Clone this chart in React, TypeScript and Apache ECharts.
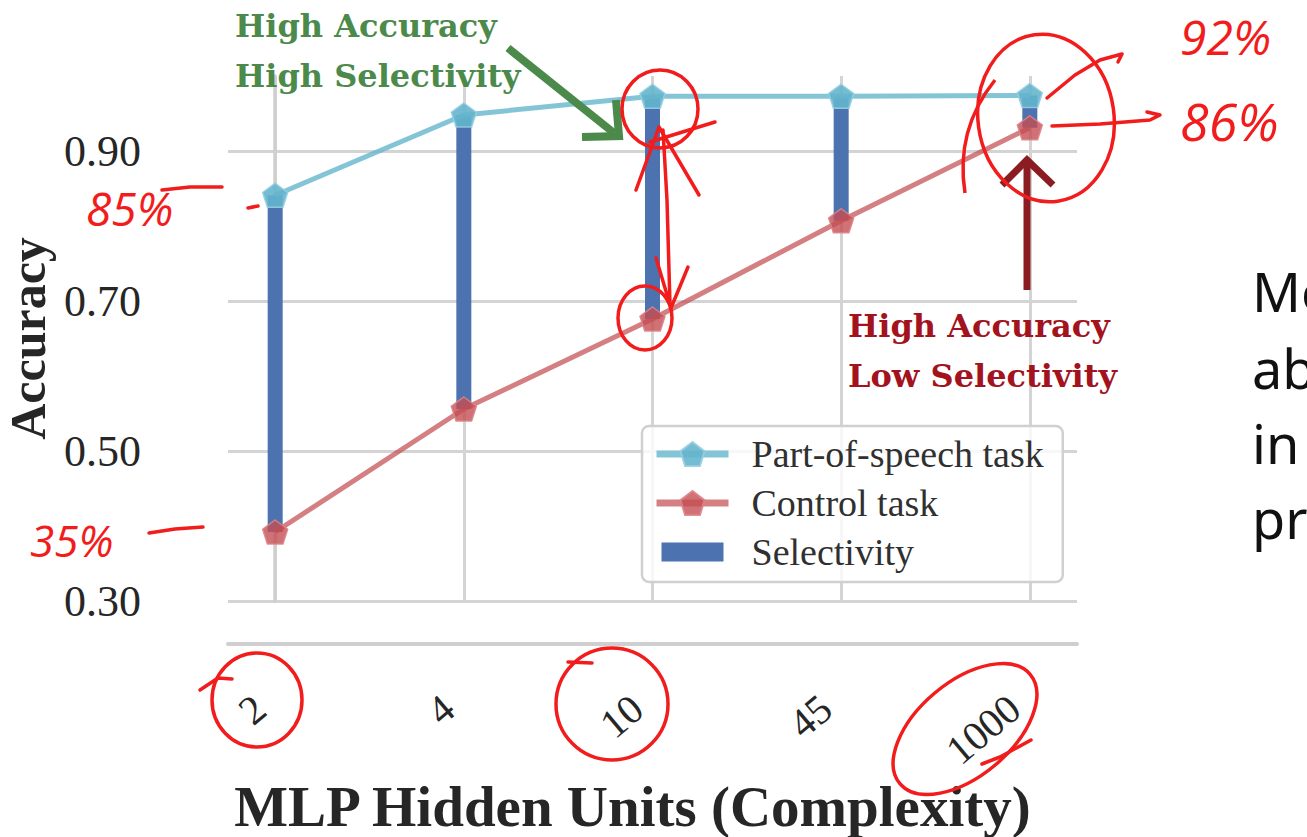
import React, { useEffect, useRef } from "react";
import * as echarts from "echarts";

const categories = ["2", "4", "10", "45", "1000"];
const posAccuracy = [0.841, 0.948, 0.973, 0.973, 0.974];
const controlAccuracy = [0.392, 0.556, 0.676, 0.807, 0.931];
const yTickLabels = ["0.30", "0.50", "0.70", "0.90"];
const seriesNames = ["Part-of-speech task", "Control task", "Selectivity"];
const greenNote = ["High Accuracy", "High Selectivity"];
const redNote = ["High Accuracy", "Low Selectivity"];
const handNotes = ["85%", "35%", "92%", "86%"];
const sideText = ["Mo", "ab", "in", "pr"];

const PENTAGON =
  "path://M0,-1 L0.951,-0.309 L0.588,0.809 L-0.588,0.809 L-0.951,-0.309 Z";
const SERIF = "'Liberation Serif', 'Times New Roman', serif";
const INK = "#f21c1c";

export default function App() {
  const ref = useRef<HTMLDivElement>(null);

  useEffect(() => {
    if (!ref.current) return;
    const chart = echarts.init(ref.current, null, { renderer: "svg" });

    const inkLine = (points: number[][], w = 3.5) => ({
      type: "polyline",
      z: 100,
      shape: { points },
      style: { stroke: INK, lineWidth: w, fill: "none", lineCap: "round", lineJoin: "round" },
    });
    const inkEllipse = (cx: number, cy: number, rx: number, ry: number, rotDeg = 0) => ({
      type: "ellipse",
      z: 100,
      x: cx,
      y: cy,
      rotation: (rotDeg * Math.PI) / 180,
      shape: { cx: 0, cy: 0, rx, ry },
      style: { stroke: INK, lineWidth: 3.5, fill: "none" },
    });
    const txt = (
      text: string,
      x: number,
      y: number,
      fontSize: number,
      fill: string,
      fontFamily: string,
      fontWeight: string = "normal",
      fontStyle: string = "normal"
    ) => ({
      type: "text",
      z: 100,
      x,
      y,
      style: {
        text,
        fontSize,
        fontFamily,
        fontWeight,
        fontStyle,
        fill,
        align: "left",
        textAlign: "left",
        verticalAlign: "middle",
        textVerticalAlign: "middle",
      },
    });

    const option: any = {
      animation: false,
      backgroundColor: "#ffffff",
      grid: {
        left: 228,
        right: 230,
        top: 76,
        bottom: 236,
        containLabel: false,
        outerBoundsMode: "none",
      },
      legend: {
        orient: "vertical",
        left: 642,
        top: 426,
        padding: [9, 19, 11, 11],
        itemWidth: 72,
        itemHeight: 30,
        itemGap: 11,
        backgroundColor: "rgba(255,255,255,0.8)",
        borderColor: "#d0d0d0",
        borderWidth: 2.5,
        borderRadius: 7,
        lineStyle: { width: 7 },
        textStyle: {
          fontFamily: SERIF,
          fontSize: 38,
          color: "#303030",
          padding: [0, 0, 0, 18],
        },
        data: [
          { name: seriesNames[0] },
          { name: seriesNames[1] },
          {
            name: seriesNames[2],
            icon: "path://M0,0 M72,30 M5,5.5 L67,5.5 L67,24.5 L5,24.5 Z",
          },
        ],
      },
      xAxis: {
        type: "value",
        min: -0.25,
        max: 4.25,
        minInterval: 1,
        maxInterval: 1,
        offset: 43,
        axisLine: { show: true, lineStyle: { color: "#cfcfcf", width: 4 } },
        axisTick: { show: false },
        splitLine: {
          show: true,
          showMinLine: false,
          showMaxLine: false,
          lineStyle: { color: "#d4d4d4", width: 3 },
        },
        axisLabel: {
          rotate: 40,
          margin: 46,
          padding: [0, 20, 0, 0],
          fontFamily: SERIF,
          fontSize: 41,
          color: "#262626",
          showMinLabel: false,
          showMaxLabel: false,
          formatter: (v: number) =>
            Number.isInteger(v) && categories[v] !== undefined ? categories[v] : "",
        },
        name: "MLP Hidden Units (Complexity)",
        nameLocation: "middle",
        nameGap: 131,
        nameTextStyle: {
          fontFamily: SERIF,
          fontWeight: "bold",
          fontSize: 57,
          color: "#262626",
          padding: [0, 40, 0, 0],
        },
      },
      yAxis: {
        type: "value",
        min: 0.3,
        max: 1.0,
        interval: 0.1,
        offset: 43,
        axisLine: { show: true, lineStyle: { color: "#cfcfcf", width: 3.5 } },
        axisTick: { show: false },
        splitLine: {
          show: true,
          lineStyle: { color: ["#d4d4d4", "rgba(0,0,0,0)"], width: 3 },
        },
        axisLabel: {
          margin: 44,
          fontFamily: SERIF,
          fontSize: 44,
          color: "#262626",
          formatter: (v: number) => {
            const s = v.toFixed(2);
            return yTickLabels.includes(s) ? s : "";
          },
        },
        name: "Accuracy",
        nameLocation: "middle",
        nameGap: 128,
        nameTextStyle: {
          fontFamily: SERIF,
          fontWeight: "bold",
          fontSize: 50,
          lineHeight: 50,
          color: "#262626",
        },
      },
      series: [
        {
          name: seriesNames[2],
          type: "custom",
          z: 1,
          itemStyle: { color: "#4c72b0" },
          encode: { x: 0, y: [1, 2] },
          data: categories.map((c, i) => [i, controlAccuracy[i], posAccuracy[i]]),
          renderItem: (params: any, api: any) => {
            const x = api.value(0);
            const lo = api.coord([x, api.value(1)]);
            const hi = api.coord([x, api.value(2)]);
            return {
              type: "rect",
              shape: { x: lo[0] - 7.5, y: hi[1], width: 15, height: lo[1] - hi[1] },
              style: { fill: "#4c72b0" },
            };
          },
        },
        {
          name: seriesNames[0],
          type: "line",
          z: 3,
          data: categories.map((c, i) => [i, posAccuracy[i]]),
          symbol: PENTAGON,
          symbolSize: [25, 24],
          lineStyle: { color: "rgba(100,181,205,0.8)", width: 5 },
          itemStyle: {
            color: "rgba(100,181,205,0.9)",
            borderColor: "rgba(150,205,225,0.9)",
            borderWidth: 1.5,
          },
        },
        {
          name: seriesNames[1],
          type: "line",
          z: 3,
          data: categories.map((c, i) => [i, controlAccuracy[i]]),
          symbol: PENTAGON,
          symbolSize: [25, 24],
          lineStyle: { color: "rgba(196,78,82,0.72)", width: 5 },
          itemStyle: {
            color: "rgba(196,78,82,0.8)",
            borderColor: "rgba(220,130,135,0.9)",
            borderWidth: 1.5,
          },
        },
      ],
      graphic: [
        // green annotation
        txt(greenNote[0], 235, 26, 32, "#4b8a4b", "'DejaVu Serif', serif", "bold"),
        txt(greenNote[1], 235, 76, 32, "#4b8a4b", "'DejaVu Serif', serif", "bold"),
        {
          type: "line",
          z: 90,
          shape: { x1: 508, y1: 48, x2: 614, y2: 133 },
          style: { stroke: "#4b8a4b", lineWidth: 8 },
        },
        {
          type: "polyline",
          z: 90,
          shape: { points: [[616, 100], [619, 136], [582, 137]] },
          style: { stroke: "#4b8a4b", lineWidth: 8, fill: "none", lineJoin: "miter" },
        },
        // dark red annotation
        txt(redNote[0], 848, 326, 32, "#a3131d", "'DejaVu Serif', serif", "bold"),
        txt(redNote[1], 848, 376, 32, "#a3131d", "'DejaVu Serif', serif", "bold"),
        {
          type: "line",
          z: 90,
          shape: { x1: 1027, y1: 290, x2: 1027, y2: 162 },
          style: { stroke: "#8b1c22", lineWidth: 7 },
        },
        {
          type: "polyline",
          z: 90,
          shape: { points: [[1002, 185], [1027, 160], [1053, 185]] },
          style: { stroke: "#8b1c22", lineWidth: 7, fill: "none" },
        },
        // handwritten ink
        txt(handNotes[0], 86, 208, 46, INK, "'Open Sans', sans-serif", "normal", "italic"),
        inkLine([[162, 190], [190, 187], [222, 187]]),
        inkLine([[248, 208], [258, 206]]),
        txt(handNotes[1], 30, 540, 44, INK, "'Open Sans', sans-serif", "normal", "italic"),
        inkLine([[149, 533], [175, 529], [203, 527]]),
        txt(handNotes[2], 1180, 36, 48, INK, "'Open Sans', sans-serif", "normal", "italic"),
        txt(handNotes[3], 1180, 120, 52, INK, "'Open Sans', sans-serif", "normal", "italic"),
        inkEllipse(660, 109, 38, 39),
        inkEllipse(645, 318, 27, 32),
        inkLine([[663, 130], [667, 200], [670, 305]]),
        inkLine([[636, 190], [659, 127], [699, 195]]),
        inkLine([[650, 142], [715, 122]]),
        inkLine([[656, 258], [671, 308], [688, 267]]),
        inkEllipse(1046, 118, 68, 84, 8),
        {
          type: "bezierCurve",
          z: 100,
          shape: { x1: 965, y1: 193, cpx1: 955, cpy1: 130, x2: 995, y2: 80 },
          style: { stroke: INK, lineWidth: 3.5, fill: "none" },
        },
        inkLine([[1052, 126], [1100, 124], [1150, 120], [1160, 115], [1147, 112]]),
        inkLine([[1047, 98], [1075, 75], [1100, 60], [1122, 54], [1118, 62]]),
        inkEllipse(257, 700, 45, 47),
        inkLine([[200, 690], [218, 678], [232, 679]]),
        inkEllipse(612, 704, 56, 56),
        inkLine([[568, 662], [592, 663]]),
        inkEllipse(965, 729, 85, 47, 40),
        inkLine([[1031, 740], [1000, 757], [982, 764]]),
        // slide text on the right (cut off by the slide edge, as in the reference)
        txt(sideText[0], 1252, 291, 54, "#111111", "'Noto Sans', sans-serif"),
        txt(sideText[1], 1252, 368, 54, "#111111", "'Noto Sans', sans-serif"),
        txt(sideText[2], 1252, 443, 54, "#111111", "'Noto Sans', sans-serif"),
        txt(sideText[3], 1252, 518, 54, "#111111", "'Noto Sans', sans-serif"),
      ],
    };

    chart.setOption(option);
    return () => chart.dispose();
  }, []);

  return (
    <div
      ref={ref}
      style={{ position: "absolute", left: 0, top: 0, width: 1307, height: 837 }}
    />
  );
}
